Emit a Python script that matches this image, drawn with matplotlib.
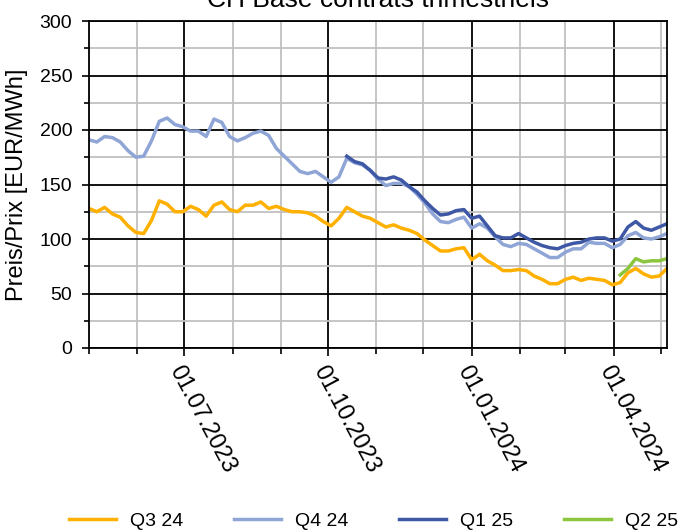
import numpy as np
import pandas as pd
import matplotlib
matplotlib.use('Agg')
import matplotlib.pyplot as plt
import matplotlib.dates as md
from matplotlib.ticker import MultipleLocator

plt.rcParams['font.family'] = ['Liberation Sans', 'DejaVu Sans']

# one point every 5 days, 01.05.2023 .. 05.05.2024
dates = pd.date_range('2023-05-01', '2024-05-05', freq='5D')

q3_24 = [128, 125, 129, 123, 120, 112, 106, 105, 117, 135,
         132, 125, 125, 130, 127, 121, 131, 134, 127, 125,
         131, 131, 134, 128, 130, 127, 125, 125, 124, 121,
         116, 112, 119, 129, 125, 121, 119, 115, 111, 113,
         110, 108, 105, 99, 94, 89, 89, 91, 92, 81,
         86, 80, 76, 71, 71, 72, 71, 66, 63, 59,
         59, 63, 65, 62, 64, 63, 62, 58, 60, 69,
         73, 68, 65, 66, 73]
q4_24 = [191, 189, 194, 193, 189, 181, 175, 176, 190, 208,
         211, 205, 203, 199, 199, 194, 210, 207, 194, 190,
         193, 197, 199, 195, 183, 176, 169, 162, 160, 162,
         157, 152, 157, 174, 170, 168, 163, 155, 149, 151,
         151, 148, 141, 133, 123, 116, 115, 118, 120, 110,
         114, 110, 102, 95, 93, 96, 95, 91, 87, 83,
         83, 88, 91, 91, 97, 96, 96, 92, 95, 103,
         106, 101, 100, 102, 105]
# later contracts start trading later: values align with the end of dates
q1_25 = [176, 171, 169, 163, 156, 155, 157, 154, 148, 143,
         135, 128, 122, 123, 126, 127, 119, 121, 112, 103,
         101, 101, 105, 101, 97, 94, 92, 91, 94, 96,
         97, 100, 101, 101, 98, 100, 111, 116, 110, 108,
         111, 114]
q2_25 = [67, 73, 82, 79, 80, 80, 82]

series = [(q3_24, 'Q3 24', '#ffb000'),
          (q4_24, 'Q4 24', '#8fa5d6'),
          (q1_25, 'Q1 25', '#3f58a6'),
          (q2_25, 'Q2 25', '#8cc63f')]

fig = plt.figure(figsize=(6.85, 5.32), dpi=100)
ax = fig.add_axes([89 / 685, 1 - 348 / 532, 578 / 685, 327 / 532])

for vals, name, col in series:
    ax.plot(dates[len(dates) - len(vals):], vals, color=col, lw=2.5,
            label=name, solid_joinstyle='round')

ax.set_ylim(0, 300)
ax.yaxis.set_major_locator(MultipleLocator(50))
ax.yaxis.set_minor_locator(MultipleLocator(25))
ax.set_xlim(pd.Timestamp('2023-05-01'), pd.Timestamp('2024-05-05'))
ax.xaxis.set_major_locator(md.MonthLocator(bymonth=[1, 4, 7, 10]))
ax.xaxis.set_minor_locator(md.MonthLocator())
ax.xaxis.set_major_formatter(md.DateFormatter('%d.%m.%Y'))

ax.set_axisbelow(True)
ax.grid(which='major', color='black', lw=1.3)
ax.grid(which='minor', color='#c0c0c0', lw=1.3)
for sp in ax.spines.values():
    sp.set_linewidth(1.3)

ax.tick_params(axis='y', which='major', length=5, width=1.2, labelsize=14, pad=7)
ax.tick_params(axis='y', which='minor', length=3.5, width=1.2)
ax.tick_params(axis='x', which='major', length=6, width=1.2, labelsize=17, pad=4)
ax.tick_params(axis='x', which='minor', length=4.5, width=1.2)
plt.setp(ax.get_xticklabels(), rotation=-62, ha='left', va='top',
         rotation_mode='anchor')

fig.text(17 / 685, 1 - 184.5 / 532, 'Preis/Prix [EUR/MWh]', rotation=90,
         ha='center', va='center', fontsize=17)
# title sits at the top edge, cut off as in the original
fig.text(378 / 685, 1 - 7 / 532, 'CH Base contrats trimestriels',
         ha='center', va='baseline', fontsize=19)

handles, labels = ax.get_legend_handles_labels()
fig.legend(handles, labels, loc='center left',
           bbox_to_anchor=(69 / 685, 1 - 521 / 532), ncol=4, frameon=False,
           fontsize=14, handlelength=2.4, handletextpad=0.75,
           columnspacing=2.6, borderpad=0, borderaxespad=0)

fig.savefig('out.png', dpi=100)
